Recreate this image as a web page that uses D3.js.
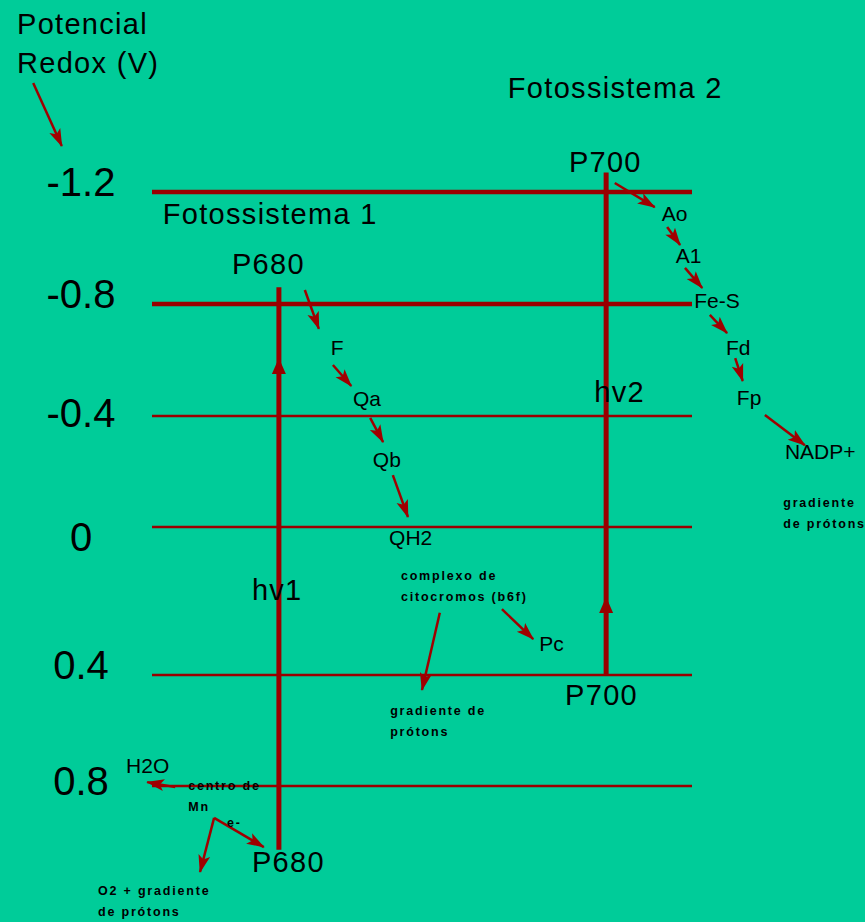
<!DOCTYPE html>
<html>
<head>
<meta charset="utf-8">
<script src="https://cdn.jsdelivr.net/npm/d3@7"></script>
<style>
  html, body { margin: 0; padding: 0; background: #00CC99; }
  svg { display: block; }
  text { font-family: "Liberation Sans", Arial, sans-serif; fill: #000; }
</style>
</head>
<body>
<svg id="chart" width="865" height="922"></svg>
<script>
// ---------- data ----------
// redox potential levels (V)
const yTicks = [-1.2, -0.8, -0.4, 0, 0.4, 0.8];
const tickLabels = ["-1.2", "-0.8", "-0.4", "0", "0.4", "0.8"];
const levelWeight = ["thick", "thick", "thin", "thin", "thin", "thin"];

// photosystem excitation (vertical transitions): x in reaction-progress units, E in volts
const psName   = ["P680", "P700"];
const psX      = [2.35, 8.41];
const psTopE   = [-0.86, -1.27];
const psBotE   = [1.03, 0.40];
const psMarkE  = [-0.607, 0.189];

// carrier labels
const labelText = ["P680", "F", "Qa", "Qb", "QH2", "complexo de\ncitocromos (b6f)", "Pc", "P700",
  "gradiente de\nprótons", "P700", "Ao", "A1", "Fe-S", "Fd", "Fp", "NADP+", "gradiente\nde prótons",
  "H2O", "centro de\nMn", "e-", "P680", "O2 + gradiente\nde prótons", "hv1", "hv2",
  "Fotossistema 1", "Fotossistema 2"];
const labelX = [1.48, 3.31, 3.72, 4.09, 4.39, 4.61, 7.17, 7.65,
  4.41, 7.72, 9.44, 9.70, 10.04, 10.63, 10.83, 11.72, 11.69,
  -0.48, 0.67, 1.39, 1.85, -1.0, 1.85, 8.19,
  0.20, 6.59];
const labelE = [-0.907, -0.618, -0.436, -0.216, 0.049, 0.143, 0.335, 0.508,
  0.544, -1.271, -1.096, -0.946, -0.786, -0.618, -0.439, -0.245, -0.072,
  0.753, 0.814, 0.948, 1.110, 1.193, 0.197, -0.45,
  -1.086, -1.536];
const labelKind = ["L", "M", "M", "M", "M", "S", "M", "L",
  "S", "L", "M", "M", "M", "M", "M", "M", "S",
  "M", "S", "S", "L", "S", "L", "L",
  "L", "L"];

// electron-transfer arrows (from -> to), x in progress units, E in volts
const arrowFromX = [2.83, 3.35, 4.04, 4.46, 5.33, 6.48,
  8.57, 9.54, 9.87, 10.33, 10.80, 11.35,
  0.43, 1.15, 1.15, -2.20];
const arrowFromE = [-0.85, -0.582, -0.393, -0.187, 0.232, 0.222,
  -1.232, -1.075, -0.929, -0.761, -0.607, -0.404,
  0.804, 0.915, 0.915, -1.589];
const arrowToX = [3.09, 3.69, 4.28, 4.74, 5.00, 7.06,
  9.31, 9.78, 10.19, 10.65, 10.94, 12.09,
  -0.09, 0.89, 2.07, -1.67];
const arrowToE = [-0.711, -0.507, -0.306, -0.036, 0.454, 0.303,
  -1.146, -1.011, -0.857, -0.696, -0.525, -0.295,
  0.786, 1.110, 1.020, -1.364];

const axisTitle = ["Potencial", "Redox (V)"];
const tickNudge = [4, 4, 11, 24, 4, 9];

// ---------- drawing ----------
const RED = "#990000";
const svg = d3.select("#chart");
svg.append("rect").attr("width", 865).attr("height", 922).attr("fill", "#00CC99");

const x = d3.scaleLinear().domain([0, 10]).range([152, 692]);
const y = d3.scaleLinear().domain(yTicks).range([192, 304, 416, 527, 675, 786]);

svg.append("defs").append("marker")
  .attr("id", "head").attr("markerUnits", "userSpaceOnUse")
  .attr("viewBox", "0 -7 18 14").attr("refX", 17).attr("refY", 0)
  .attr("markerWidth", 18).attr("markerHeight", 14).attr("orient", "auto")
  .append("path").attr("d", "M0,-6L18,0L0,6L4,0Z").attr("fill", "#A00000");

// level lines
svg.append("g").selectAll("line").data(yTicks).join("line")
  .attr("x1", x(0)).attr("x2", x(10))
  .attr("y1", d => y(d)).attr("y2", d => y(d))
  .attr("stroke", RED)
  .attr("stroke-width", (d, i) => levelWeight[i] === "thick" ? 4.5 : 2.5);

// tick labels
svg.append("g").selectAll("text").data(yTicks).join("text")
  .attr("x", 81).attr("y", (d, i) => y(d) + tickNudge[i])
  .attr("text-anchor", "middle").attr("font-size", 40)
  .text((d, i) => tickLabels[i]);

// axis title
svg.append("g").selectAll("text").data(axisTitle).join("text")
  .attr("x", 17).attr("y", (d, i) => 34 + i * 39)
  .attr("font-size", 29).attr("letter-spacing", 1.3)
  .text(d => d);

// vertical photosystem lines
const ps = psName.map((n, i) => ({ n, x: psX[i], top: psTopE[i], bot: psBotE[i], mark: psMarkE[i] }));
svg.append("g").selectAll("line").data(ps).join("line")
  .attr("x1", d => x(d.x)).attr("x2", d => x(d.x))
  .attr("y1", d => y(d.top)).attr("y2", d => y(d.bot))
  .attr("stroke", RED).attr("stroke-width", 5);
svg.append("g").selectAll("path").data(ps).join("path")
  .attr("d", d => {
    const cx = x(d.x), ty = y(d.mark);
    return `M${cx},${ty}L${cx + 7},${ty + 16}L${cx - 7},${ty + 16}Z`;
  })
  .attr("fill", RED);

// arrows
const arrows = arrowFromX.map((v, i) => ({ x1: v, e1: arrowFromE[i], x2: arrowToX[i], e2: arrowToE[i] }));
svg.append("g").selectAll("line").data(arrows).join("line")
  .attr("x1", d => x(d.x1)).attr("y1", d => y(d.e1))
  .attr("x2", d => x(d.x2)).attr("y2", d => y(d.e2))
  .attr("stroke", "#A00000").attr("stroke-width", 2.5)
  .attr("marker-end", "url(#head)");

// labels
const style = {
  L: { size: 29, weight: "normal", ls: 1.3, lh: 39 },
  M: { size: 21, weight: "normal", ls: 0, lh: 24 },
  S: { size: 12.5, weight: "bold", ls: 1.8, lh: 21 }
};
const labels = labelText.map((t, i) => ({ t, x: labelX[i], e: labelE[i], k: labelKind[i] }));
const lg = svg.append("g").selectAll("text").data(labels).join("text")
  .attr("x", d => x(d.x)).attr("y", d => y(d.e))
  .attr("font-size", d => style[d.k].size)
  .attr("font-weight", d => style[d.k].weight)
  .attr("letter-spacing", d => style[d.k].ls);
lg.each(function (d) {
  const lines = d.t.split("\n");
  d3.select(this).selectAll("tspan").data(lines).join("tspan")
    .attr("x", x(d.x)).attr("dy", (l, j) => j === 0 ? 0 : style[d.k].lh)
    .text(l => l);
});
</script>
</body>
</html>
